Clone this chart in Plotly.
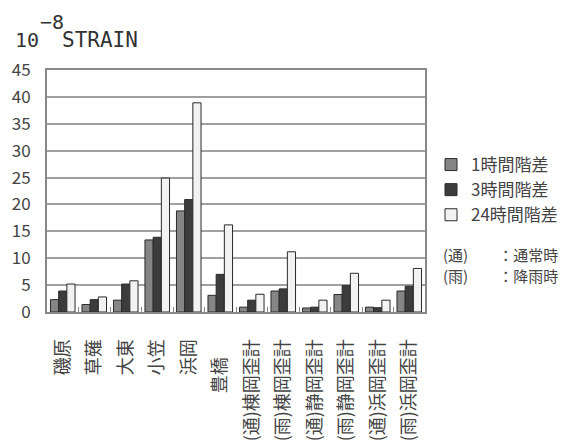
import plotly.graph_objects as go

categories = ["磯原", "草薙", "大東", "小笠", "浜岡", "豊橋",
              "(通)棟岡歪計", "(雨)棟岡歪計", "(通)静岡歪計", "(雨)静岡歪計",
              "(通)浜岡歪計", "(雨)浜岡歪計"]
tick_labels = ["磯原", "草薙", "大東", "小笠", "浜岡", "豊橋\u3000",
               "(通)棟岡歪計", "(雨)棟岡歪計", "(通)静岡歪計", "(雨)静岡歪計",
               "(通)浜岡歪計", "(雨)浜岡歪計"]
series_names = ["1時間階差", "3時間階差", "24時間階差"]
s1 = [2.3, 1.4, 2.2, 13.4, 18.8, 3.1, 0.9, 3.9, 0.75, 3.25, 0.9, 3.9]
s3 = [3.9, 2.3, 5.2, 13.9, 20.9, 7.0, 2.2, 4.3, 0.9, 4.9, 0.8, 4.8]
s24 = [5.2, 2.8, 5.8, 24.9, 38.9, 16.2, 3.3, 11.2, 2.2, 7.2, 2.2, 8.1]
y_ticks = [0, 5, 10, 15, 20, 25, 30, 35, 40, 45]
notes = ["(通)　　：通常時", "(雨)　　：降雨時"]

FONT = "Noto Sans CJK JP"
MONO = "DejaVu Sans Mono"
colors = ["#858585", "#3c3c3c", "#f2f2f2"]

# page body has an 8px default margin; plot area sits at page x 47..425, y 70..312
PL, PR, PT, PB = 47, 425, 70, 312
PW, PH = PR - PL, PB - PT


def px(X):
    return (X - PL) / PW


def py(Y):
    return (PB - Y) / PH


fig = go.Figure()
for name, vals, c in zip(series_names, [s1, s3, s24], colors):
    fig.add_trace(go.Bar(x=categories, y=vals, name=name,
                         marker=dict(color=c, line=dict(color="#2a2a2a", width=1))))

fig.update_layout(
    width=561, height=440,
    margin=dict(l=PL - 8, r=569 - PR, t=PT - 8, b=448 - PB, pad=0, autoexpand=False),
    paper_bgcolor="white", plot_bgcolor="white",
    barmode="group", bargap=0.22, bargroupgap=0,
    font=dict(family=FONT, color="#333333"),
    showlegend=True,
    legend=dict(x=px(431), y=py(147), xanchor="left", yanchor="top",
                font=dict(size=17, color="#444444"), tracegroupgap=0,
                itemwidth=30, bgcolor="rgba(0,0,0,0)"),
    xaxis=dict(tickmode="array", tickvals=categories, ticktext=tick_labels,
               tickangle=-90, tickfont=dict(size=18, color="#444444"),
               ticklabelstandoff=18,
               showline=True, linecolor="#888888", linewidth=2, mirror=True,
               ticks="inside", ticklen=5, tickcolor="#888888", tickson="boundaries"),
    yaxis=dict(range=[0, 45], tickvals=y_ticks, tickfont=dict(size=17, color="#444444"),
               ticklabelstandoff=11,
               showgrid=True, gridcolor="#a0a0a0", gridwidth=1.5,
               showline=True, linecolor="#888888", linewidth=2, mirror=True,
               ticks="", zeroline=False),
)

fig.add_annotation(text="10", xref="paper", yref="paper", x=px(13), y=py(40),
                   xanchor="left", yanchor="middle", showarrow=False,
                   font=dict(family=MONO, size=20, color="#333333"))
fig.add_annotation(text="−8", xref="paper", yref="paper", x=px(38), y=py(22),
                   xanchor="left", yanchor="middle", showarrow=False,
                   font=dict(family=MONO, size=20, color="#333333"))
fig.add_annotation(text="STRAIN", xref="paper", yref="paper", x=px(60), y=py(40),
                   xanchor="left", yanchor="middle", showarrow=False,
                   font=dict(family=MONO, size=21, color="#333333"))
for i, note in enumerate(notes):
    fig.add_annotation(text=note, xref="paper", yref="paper", x=px(441), y=py(254 + 21 * i),
                       xanchor="left", yanchor="middle", showarrow=False,
                       font=dict(size=15, color="#444444"))

fig.write_html("out.html")
